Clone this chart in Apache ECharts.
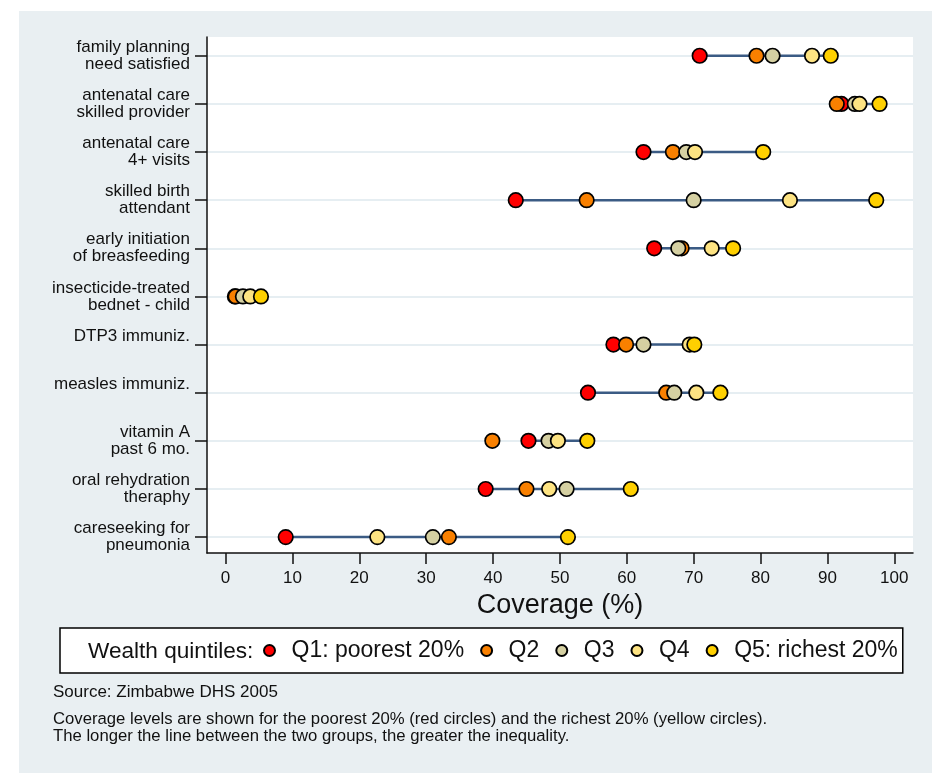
<!DOCTYPE html>
<html>
<head>
<meta charset="utf-8">
<script src="https://cdn.jsdelivr.net/npm/echarts@6/dist/echarts.min.js"></script>
<style>
html,body{margin:0;padding:0;background:#fff;}
#chart{width:932px;height:773px;}
</style>
</head>
<body>
<div id="chart"></div>
<script>
var categories = [
  "family planning\nneed satisfied",
  "antenatal care\nskilled provider",
  "antenatal care\n4+ visits",
  "skilled birth\nattendant",
  "early initiation\nof breasfeeding",
  "insecticide-treated\nbednet - child",
  "DTP3 immuniz.\n ",
  "measles immuniz.\n ",
  "vitamin A\npast 6 mo.",
  "oral rehydration\ntheraphy",
  "careseeking for\npneumonia"
];
var q1 = [70.9, 92.1, 62.5, 43.4, 64.1, 1.4, 58.0, 54.2, 45.3, 38.9, 9.0];
var q2 = [79.4, 91.4, 66.9, 54.0, 68.2, 1.5, 59.9, 65.9, 39.9, 45.0, 33.4];
var q3 = [81.8, 94.1, 68.9, 70.0, 67.7, 2.6, 62.5, 67.1, 48.3, 51.0, 31.0];
var q4 = [87.7, 94.8, 70.2, 84.4, 72.7, 3.7, 69.4, 70.4, 49.7, 48.4, 22.7];
var q5 = [90.5, 97.8, 80.4, 97.3, 75.9, 5.3, 70.1, 74.0, 54.1, 60.6, 51.2];
var seriesNames = ["Q1: poorest 20%", "Q2", "Q3", "Q4", "Q5: richest 20%"];
var seriesColors = ["#ff0000", "#f98000", "#d5d0a2", "#fde382", "#ffd000"];
var xTicks = [0, 10, 20, 30, 40, 50, 60, 70, 80, 90, 100];
var legendTitle = "Wealth quintiles:";
var sourceText = "Source: Zimbabwe DHS 2005";
var noteText = "Coverage levels are shown for the poorest 20% (red circles) and the richest 20% (yellow circles).\nThe longer the line between the two groups, the greater the inequality.";

var FONT = "'Liberation Sans', Arial, Helvetica, sans-serif";
var rowIdx = categories.map(function (c, i) { return i; });
var quintiles = [q1, q2, q3, q4, q5];

var chart = echarts.init(document.getElementById('chart'), null, {renderer: 'canvas'});

var scatterSeries = quintiles.map(function (arr, k) {
  return {
    type: 'scatter',
    name: seriesNames[k],
    z: 3,
    symbol: 'circle',
    symbolSize: 14.5,
    itemStyle: {color: seriesColors[k], borderColor: '#000', borderWidth: 1.7, opacity: 1},
    emphasis: {disabled: true},
    data: arr.map(function (v, i) { return [v, i]; })
  };
});

var option = {
  backgroundColor: '#ffffff',
  animation: false,
  textStyle: {fontFamily: FONT},
  graphic: [
    {type: 'rect', z: -100, silent: true, shape: {x: 19, y: 11, width: 913, height: 762}, style: {fill: '#e9eff2'}},
    {type: 'text', z: 100, silent: true, x: 88, y: 652,
      style: {text: legendTitle, font: '22.6px ' + FONT, fill: '#111', verticalAlign: 'middle'}},
    {type: 'text', z: 100, silent: true, x: 53, y: 692,
      style: {text: sourceText, font: '17px ' + FONT, fill: '#111', verticalAlign: 'middle'}},
    {type: 'text', z: 100, silent: true, x: 53, y: 711,
      style: {text: noteText, font: '16.7px ' + FONT, fill: '#111', lineHeight: 17, verticalAlign: 'top'}}
  ],
  grid: {
    left: 207, top: 37, right: 19, bottom: 220,
    show: true, backgroundColor: '#ffffff', borderWidth: 0,
    containLabel: false
  },
  legend: {
    data: seriesNames,
    left: 60, top: 628,
    orient: 'horizontal',
    icon: 'circle',
    itemWidth: 34, itemHeight: 11, itemGap: 16,
    padding: [11, 5, 11, 203],
    backgroundColor: '#ffffff',
    borderColor: '#000', borderWidth: 1.5,
    selectedMode: false,
    textStyle: {fontSize: 23, color: '#111', fontFamily: FONT}
  },
  xAxis: {
    type: 'value',
    min: -2.77, max: 102.8,
    name: 'Coverage (%)',
    nameLocation: 'middle',
    nameGap: 35,
    nameTextStyle: {fontSize: 27, color: '#111', fontFamily: FONT},
    axisLine: {show: true, onZero: false, lineStyle: {color: '#111', width: 1.5}},
    axisTick: {show: true, length: 11, lineStyle: {color: '#111', width: 1.5}, customValues: xTicks},
    axisLabel: {fontSize: 17, color: '#111', margin: 17, customValues: xTicks, fontFamily: FONT},
    splitLine: {show: false}
  },
  yAxis: {
    type: 'value',
    inverse: true,
    min: -0.39, max: 10.33,
    axisLine: {show: true, onZero: false, lineStyle: {color: '#111', width: 1.5}},
    axisTick: {show: true, length: 12, lineStyle: {color: '#111', width: 1.5}, customValues: rowIdx},
    axisLabel: {
      customValues: rowIdx,
      fontSize: 17, lineHeight: 17, color: '#111', margin: 17, align: 'right', fontFamily: FONT,
      formatter: function (v) { return categories[Math.round(v)] || ''; }
    },
    splitLine: {show: true, lineStyle: {color: '#e6eef2', width: 2}}
  },
  series: [
    {
      type: 'custom',
      name: 'range',
      z: 2,
      silent: true,
      renderItem: function (params, api) {
        var i = api.value(0);
        var a = api.coord([api.value(1), i]);
        var b = api.coord([api.value(2), i]);
        return {
          type: 'line',
          shape: {x1: a[0], y1: a[1], x2: b[0], y2: b[1]},
          style: {stroke: '#3b5b84', lineWidth: 2.5}
        };
      },
      encode: {x: [1, 2], y: 0},
      data: rowIdx.map(function (i) { return [i, q1[i], q5[i]]; })
    }
  ].concat(scatterSeries)
};
chart.setOption(option);
</script>
</body>
</html>
